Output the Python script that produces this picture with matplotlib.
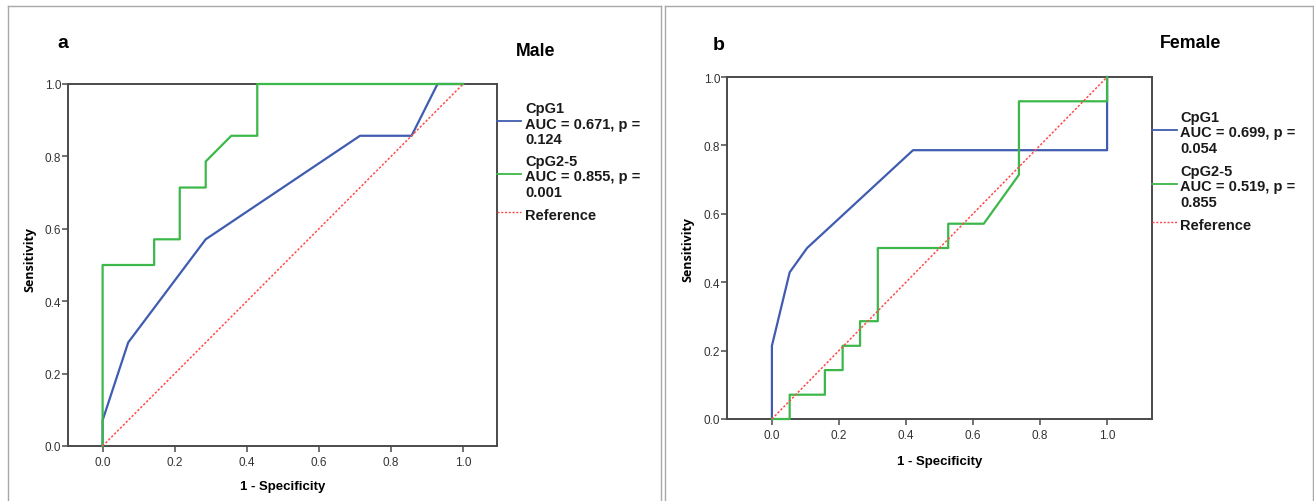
import matplotlib
matplotlib.use("Agg")
import matplotlib.pyplot as plt
from matplotlib.lines import Line2D

# ROC coordinates (1 - specificity, sensitivity)
male_cpg1_fpr = [0, 0, 0.071, 0.286, 0.714, 0.857, 0.929, 1.0]
male_cpg1_tpr = [0, 0.071, 0.286, 0.571, 0.857, 0.857, 1.0, 1.0]
male_cpg25_fpr = [0, 0, 0.143, 0.143, 0.214, 0.214, 0.286, 0.286, 0.357, 0.429, 0.429, 1.0]
male_cpg25_tpr = [0, 0.5, 0.5, 0.571, 0.571, 0.714, 0.714, 0.786, 0.857, 0.857, 1.0, 1.0]

female_cpg1_fpr = [0, 0, 0.053, 0.105, 0.421, 1.0, 1.0]
female_cpg1_tpr = [0, 0.214, 0.429, 0.5, 0.786, 0.786, 1.0]
female_cpg25_fpr = [0, 0.053, 0.053, 0.158, 0.158, 0.211, 0.211, 0.263, 0.263,
                    0.316, 0.316, 0.526, 0.526, 0.632, 0.737, 0.737, 1.0, 1.0]
female_cpg25_tpr = [0, 0, 0.071, 0.071, 0.143, 0.143, 0.214, 0.214, 0.286,
                    0.286, 0.5, 0.5, 0.571, 0.571, 0.714, 0.929, 0.929, 1.0]

reference = [0, 1]

tick_values = [0.0, 0.2, 0.4, 0.6, 0.8, 1.0]
tick_labels = ["0.0", "0.2", "0.4", "0.6", "0.8", "1.0"]

panel_letters = ["a", "b"]
panel_titles = ["Male", "Female"]
male_labels = ["CpG1\nAUC = 0.671, p =\n0.124", "CpG2-5\nAUC = 0.855, p =\n0.001", "Reference"]
female_labels = ["CpG1\nAUC = 0.699, p =\n0.054", "CpG2-5\nAUC = 0.519, p =\n0.855", "Reference"]

BLUE = "#3f5cb0"
GREEN = "#3cb84a"
RED = "#ff4a4a"
SPINE = "#4a4a4a"
FRAME = "#a8a8a8"

W, H = 1314, 502
fig = plt.figure(figsize=(W / 100, H / 100), dpi=100)


def fx(px):
    return px / W


def fy(py):
    return 1 - py / H


# panel frames
for x0, x1 in [(7.5, 661), (664.5, 1312.5)]:
    fig.add_artist(Line2D([fx(x0), fx(x0)], [fy(6.5), 0], color=FRAME, lw=1))
    fig.add_artist(Line2D([fx(x1), fx(x1)], [fy(6.5), 0], color=FRAME, lw=1))
    fig.add_artist(Line2D([fx(x0), fx(x1)], [fy(6.5), fy(6.5)], color=FRAME, lw=1))

panels = [
    dict(box=(68, 497, 85, 447), xlim=(-0.096, 1.094), xlab_off=34,
         cpg1=(male_cpg1_fpr, male_cpg1_tpr), cpg25=(male_cpg25_fpr, male_cpg25_tpr),
         labels=male_labels, leg_y=[122, 175, 213], leg_x=(497, 521, 525),
         letter=(57, 48), title=(516, 56), ylab=(30, 260)),
    dict(box=(727, 1152, 78, 420), xlim=(-0.134, 1.134), xlab_off=36,
         cpg1=(female_cpg1_fpr, female_cpg1_tpr), cpg25=(female_cpg25_fpr, female_cpg25_tpr),
         labels=female_labels, leg_y=[131, 185, 223], leg_x=(1152, 1177, 1180),
         letter=(713, 50), title=(1160, 48), ylab=(688, 249)),
]

for i, p in enumerate(panels):
    l, r, t, b = p["box"]
    ax = fig.add_axes([fx(l), fy(b), fx(r) - fx(l), (b - t) / H])
    ax.plot(*p["cpg1"], color=BLUE, lw=1.6, clip_on=False, zorder=3)
    ax.plot(*p["cpg25"], color=GREEN, lw=1.6, clip_on=False, zorder=3)
    ax.plot(reference, reference, color=RED, lw=1.1, ls=(0, (1.5, 1.2)), clip_on=False, zorder=4)
    ax.set_xlim(*p["xlim"])
    ax.set_ylim(0, 1)
    ax.set_xticks(tick_values)
    ax.set_xticklabels(tick_labels)
    ax.set_yticks(tick_values)
    ax.set_yticklabels(tick_labels)
    for s in ax.spines.values():
        s.set_color(SPINE)
        s.set_linewidth(1.4)
    ax.tick_params(direction="out", length=4.3, width=1.1, color=SPINE,
                   labelsize=8.5, labelcolor="#333333")
    ax.tick_params(axis="y", pad=0.5)
    ax.tick_params(axis="x", pad=3)
    for lab in ax.get_xticklabels() + ax.get_yticklabels():
        lab.set_family(["Liberation Sans Narrow", "Liberation Sans"])
    ax.set_xlabel("1 - Specificity", fontsize=9.5, fontweight="bold",
                  family=["Liberation Sans Narrow", "Liberation Sans"])
    ax.xaxis.set_label_coords(0.5, -p["xlab_off"] / (b - t))

    # y label
    fig.text(fx(p["ylab"][0]), fy(p["ylab"][1]), "Sensitivity", rotation=90,
             ha="center", va="center", fontsize=9, fontweight="bold", family="Open Sans")

    # panel letter and title
    fig.text(fx(p["letter"][0]), fy(p["letter"][1]), panel_letters[i], ha="left",
             va="baseline", fontsize=14, fontweight="bold", family="Liberation Sans")
    fig.text(fx(p["title"][0]), fy(p["title"][1]), panel_titles[i], ha="left",
             va="baseline", fontsize=12.8, fontweight="bold", family="Liberation Sans")

    # legend outside the plot area
    lx0, lx1, tx = p["leg_x"]
    styles = [dict(color=BLUE, lw=1.3), dict(color=GREEN, lw=1.3),
              dict(color=RED, lw=1.0, ls=(0, (1.5, 1.2)))]
    for ly, st, text in zip(p["leg_y"], styles, p["labels"]):
        fig.add_artist(Line2D([fx(lx0), fx(lx1)], [fy(ly), fy(ly)], **st))
        fig.text(fx(tx), fy(ly + 2.5), text, ha="left", va="center", fontsize=10.5,
                 fontweight="bold", family="Liberation Sans", linespacing=1.12,
                 color="#1a1a1a")

fig.savefig("out.png", dpi=100)
